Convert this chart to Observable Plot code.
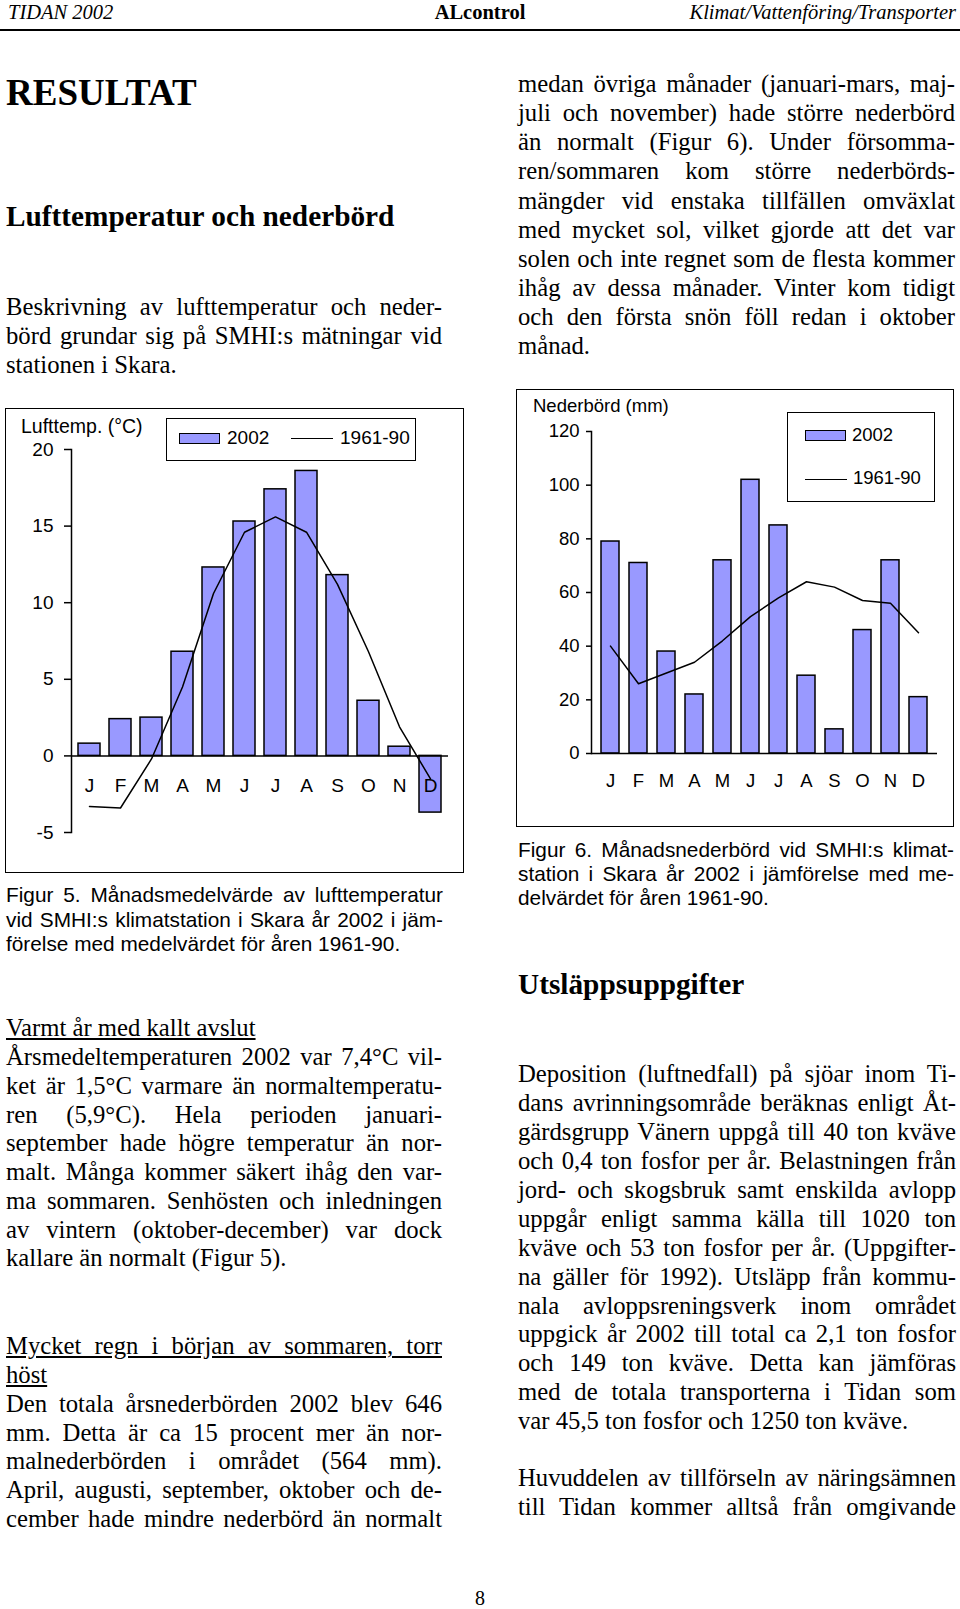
<!DOCTYPE html>
<html><head><meta charset="utf-8">
<script src="https://cdn.jsdelivr.net/npm/d3@7"></script>
<script src="https://cdn.jsdelivr.net/npm/@observablehq/plot@0.6"></script>
<style>
html,body{margin:0;padding:0;background:#fff;}
#page{position:relative;width:960px;height:1609px;overflow:hidden;color:#000;background:#fff;}
.t{position:absolute;white-space:nowrap;line-height:1;}
.j{text-align:justify;text-align-last:justify;}
.plotwrap{position:absolute;}
.plotwrap svg{display:block;}
</style></head><body><div id="page"></div>
<script>
// ---------- data ----------
const monthKeys = ["jan","feb","mar","apr","maj","jun","jul","aug","sep","okt","nov","dec"];
const monthLabels = ["J","F","M","A","M","J","J","A","S","O","N","D"];
const temp2002 = [0.8, 2.4, 2.5, 6.8, 12.3, 15.3, 17.4, 18.6, 11.8, 3.6, 0.6, -3.7];
const temp6190 = [-3.3, -3.4, -0.2, 4.5, 10.6, 14.6, 15.6, 14.6, 11.2, 6.8, 1.9, -1.5];
const tempTicks = [-5, 0, 5, 10, 15, 20];
const prec2002 = [79, 71, 38, 22, 72, 102, 85, 29, 9, 46, 72, 21];
const prec6190 = [40, 26, 30, 34, 42, 51, 58, 64, 62, 57, 56, 45];
const precTicks = [0, 20, 40, 60, 80, 100, 120];
const seriesNames = ["2002", "1961-90"];
const barColor = "#9999ff";

// ---------- text ----------
const headerLeft = "TIDAN 2002", headerMid = "ALcontrol", headerRight = "Klimat/Vattenföring/Transporter";
const title = "RESULTAT";
const heading1 = "Lufttemperatur och nederbörd";
const para1 = ["Beskrivning av lufttemperatur och neder-", "börd grundar sig på SMHI:s mätningar vid", "stationen i Skara."];
const caption5 = ["Figur 5. Månadsmedelvärde av lufttemperatur", "vid SMHI:s klimatstation i Skara år 2002 i jäm-", "förelse med medelvärdet för åren 1961-90."];
const sub1 = "Varmt år med kallt avslut";
const para2 = ["Årsmedeltemperaturen 2002 var 7,4°C vil-", "ket är 1,5°C varmare än normaltemperatu-", "ren (5,9°C). Hela perioden januari-", "september hade högre temperatur än nor-", "malt. Många kommer säkert ihåg den var-", "ma sommaren. Senhösten och inledningen", "av vintern (oktober-december) var dock", "kallare än normalt (Figur 5)."];
const sub2 = ["Mycket regn i början av sommaren, torr", "höst"];
const para3 = ["Den totala årsnederbörden 2002 blev 646", "mm. Detta är ca 15 procent mer än nor-", "malnederbörden i området (564 mm).", "April, augusti, september, oktober och de-", "cember hade mindre nederbörd än normalt"];
const para4 = ["medan övriga månader (januari-mars, maj-", "juli och november) hade större nederbörd", "än normalt (Figur 6). Under försomma-", "ren/sommaren kom större nederbörds-", "mängder vid enstaka tillfällen omväxlat", "med mycket sol, vilket gjorde att det var", "solen och inte regnet som de flesta kommer", "ihåg av dessa månader. Vinter kom tidigt", "och den första snön föll redan i oktober", "månad."];
const caption6 = ["Figur 6. Månadsnederbörd vid SMHI:s klimat-", "station i Skara år 2002 i jämförelse med me-", "delvärdet för åren 1961-90."];
const heading2 = "Utsläppsuppgifter";
const para5 = ["Deposition (luftnedfall) på sjöar inom Ti-", "dans avrinningsområde beräknas enligt Åt-", "gärdsgrupp Vänern uppgå till 40 ton kväve", "och 0,4 ton fosfor per år. Belastningen från", "jord- och skogsbruk samt enskilda avlopp", "uppgår enligt samma källa till 1020 ton", "kväve och 53 ton fosfor per år. (Uppgifter-", "na gäller för 1992). Utsläpp från kommu-", "nala avloppsreningsverk inom området", "uppgick år 2002 till total ca 2,1 ton fosfor", "och 149 ton kväve. Detta kan jämföras", "med de totala transporterna i Tidan som", "var 45,5 ton fosfor och 1250 ton kväve."];
const para6 = ["Huvuddelen av tillförseln av näringsämnen", "till Tidan kommer alltså från omgivande"];
const pageNumber = "8";
const yLabel1 = "Lufttemp. (°C)";
const yLabel2 = "Nederbörd (mm)";

const page = document.getElementById("page");
const SERIF = "'Liberation Serif','Times New Roman',serif";
const SANS = "'Liberation Sans',Arial,Helvetica,sans-serif";

function put(text, o) {
  const d = document.createElement("div");
  d.className = "t" + (o.justify ? " j" : "");
  d.textContent = text;
  const k = o.sans ? 0.8465 : 0.8375;
  d.style.fontFamily = o.sans ? SANS : SERIF;
  d.style.fontSize = o.size + "px";
  d.style.top = (o.b - k * o.size) + "px";
  if (o.right != null) { d.style.right = (960 - o.right) + "px"; }
  else if (o.center != null) { d.style.left = (o.center - 200) + "px"; d.style.width = "400px"; d.style.textAlign = "center"; }
  else { d.style.left = o.x + "px"; }
  if (o.w) d.style.width = o.w + "px";
  if (o.weight) d.style.fontWeight = o.weight;
  if (o.italic) d.style.fontStyle = "italic";
  if (o.underline) d.style.textDecoration = "underline";
  page.appendChild(d);
  return d;
}
function block(lines, o) {
  lines.forEach((s, i) => {
    const last = i === lines.length - 1;
    put(s, Object.assign({}, o, {b: o.b + i * o.step, justify: last ? !!o.lastJustify : true}));
  });
}
function rect(x, y, w, h, extra) {
  const d = document.createElement("div");
  d.style.position = "absolute";
  d.style.left = x + "px"; d.style.top = y + "px";
  d.style.width = w + "px"; d.style.height = h + "px";
  d.style.boxSizing = "border-box";
  Object.assign(d.style, extra || {});
  page.appendChild(d);
  return d;
}

// header
put(headerLeft, {x: 8, b: 19.5, size: 20.5, italic: true});
put(headerMid, {center: 480, b: 19.5, size: 20.5, weight: "bold"});
put(headerRight, {right: 956, b: 19.5, size: 20.5, italic: true});
rect(0, 29, 960, 2, {background: "#000"});

// left column
const LX = 6, LW = 436, RX = 518, RW = 437, BODY = 24.7, STEP = 28.75;
put(title, {x: 6, b: 105, size: 37, weight: "bold"});
put(heading1, {x: 6, b: 227, size: 29.3, weight: "bold"});
block(para1, {x: LX, w: LW, b: 316, step: STEP, size: BODY});
block(caption5, {x: LX, w: 437, b: 903, step: 24.5, size: 20.8, sans: true});
put(sub1, {x: LX, b: 1037, size: BODY, underline: true});
block(para2, {x: LX, w: LW, b: 1037 + STEP, step: STEP, size: BODY});
block(sub2, {x: LX, w: LW, b: 1355, step: STEP, size: BODY, underline: true});
block(para3, {x: LX, w: LW, b: 1355 + 2 * STEP, step: STEP, size: BODY, lastJustify: true});

// right column
block(para4, {x: RX, w: RW, b: 93, step: 29.05, size: BODY});
block(caption6, {x: RX, w: 436, b: 857.5, step: 24.3, size: 20.8, sans: true});
put(heading2, {x: RX, b: 995, size: 29.3, weight: "bold"});
block(para5, {x: RX, w: RW + 1, b: 1083, step: 28.9, size: BODY});
block(para6, {x: RX, w: RW + 1, b: 1486.5, step: 28.9, size: BODY, lastJustify: true});
put(pageNumber, {center: 480, b: 1605, size: 20});

// ---------- charts ----------
const tempData = monthKeys.map((k, i) => ({k, label: monthLabels[i], a: temp2002[i], n: temp6190[i]}));
const precData = monthKeys.map((k, i) => ({k, label: monthLabels[i], a: prec2002[i], n: prec6190[i]}));

function mount(svg, x, y, w, h) {
  rect(x, y, w, h, {border: "1.5px solid #000"});
  const wrap = document.createElement("div");
  wrap.className = "plotwrap";
  wrap.style.left = x + "px"; wrap.style.top = y + "px";
  wrap.appendChild(svg);
  page.appendChild(wrap);
}

const chart1 = Plot.plot({
  width: 459, height: 465,
  marginTop: 41, marginBottom: 41, marginLeft: 66, marginRight: 16,
  style: {fontFamily: SANS, fontSize: "19px", color: "#000", background: "transparent", overflow: "visible"},
  x: {type: "band", domain: monthKeys, paddingInner: 0.29, paddingOuter: 0.145, axis: null},
  y: {domain: [tempTicks[0], tempTicks[tempTicks.length - 1]], axis: null},
  marks: [
    Plot.barY(tempData, {x: "k", y: "a", fill: barColor, stroke: "#000", strokeWidth: 1.5}),
    Plot.ruleY([0], {stroke: "#000", strokeWidth: 1.5}),
    Plot.text(tempData, {x: "k", y: () => 0, text: "label", dy: 30, fontSize: 19, fill: "#000"}),
    Plot.line(tempData, {x: "k", y: "n", stroke: "#000", strokeWidth: 1.5}),
    Plot.axisY({ticks: tempTicks, tickSize: 7, tickPadding: 11, tickFormat: d => String(d), label: null, fontSize: 19, stroke: "#000", strokeWidth: 1.5}),
    Plot.frame({anchor: "left", stroke: "#000", strokeWidth: 1.5})
  ]
});
mount(chart1, 5, 408, 459, 465);

const chart2 = Plot.plot({
  width: 438, height: 437,
  marginTop: 42, marginBottom: 73, marginLeft: 75, marginRight: 17,
  style: {fontFamily: SANS, fontSize: "18.5px", color: "#000", background: "transparent", overflow: "visible"},
  x: {type: "band", domain: monthKeys, paddingInner: 0.36, paddingOuter: 0.235, axis: null},
  y: {domain: [precTicks[0], precTicks[precTicks.length - 1]], axis: null},
  marks: [
    Plot.barY(precData, {x: "k", y: "a", fill: barColor, stroke: "#000", strokeWidth: 1.5}),
    Plot.ruleY([0], {stroke: "#000", strokeWidth: 1.5}),
    Plot.text(precData, {x: "k", y: () => 0, text: "label", dy: 28, fontSize: 18.5, fill: "#000"}),
    Plot.line(precData, {x: "k", y: "n", stroke: "#000", strokeWidth: 1.5}),
    Plot.axisY({ticks: precTicks, tickSize: 5, tickPadding: 7, tickFormat: d => String(d), label: null, fontSize: 18.5, stroke: "#000", strokeWidth: 1.5}),
    Plot.frame({anchor: "left", stroke: "#000", strokeWidth: 1.5})
  ]
});
mount(chart2, 516, 389, 438, 438);

// chart titles (axis labels)
put(yLabel1, {x: 21, b: 434, size: 19.5, sans: true});
put(yLabel2, {x: 533, b: 413, size: 18.5, sans: true});

// legends
rect(166, 418, 250, 43, {border: "1.5px solid #000", background: "#fff"});
rect(179, 433, 41, 11, {border: "1.5px solid #000", background: barColor});
put(seriesNames[0], {x: 227, b: 444.5, size: 19, sans: true});
rect(291, 437.5, 42, 1.5, {background: "#000"});
put(seriesNames[1], {x: 340, b: 444.5, size: 19, sans: true});

rect(787, 412, 148, 90, {border: "1.5px solid #000", background: "#fff"});
rect(805, 430, 41, 11, {border: "1.5px solid #000", background: barColor});
put(seriesNames[0], {x: 852, b: 442, size: 18.5, sans: true});
rect(805, 478.5, 42, 1.5, {background: "#000"});
put(seriesNames[1], {x: 853, b: 485, size: 18.5, sans: true});
</script></body></html>
